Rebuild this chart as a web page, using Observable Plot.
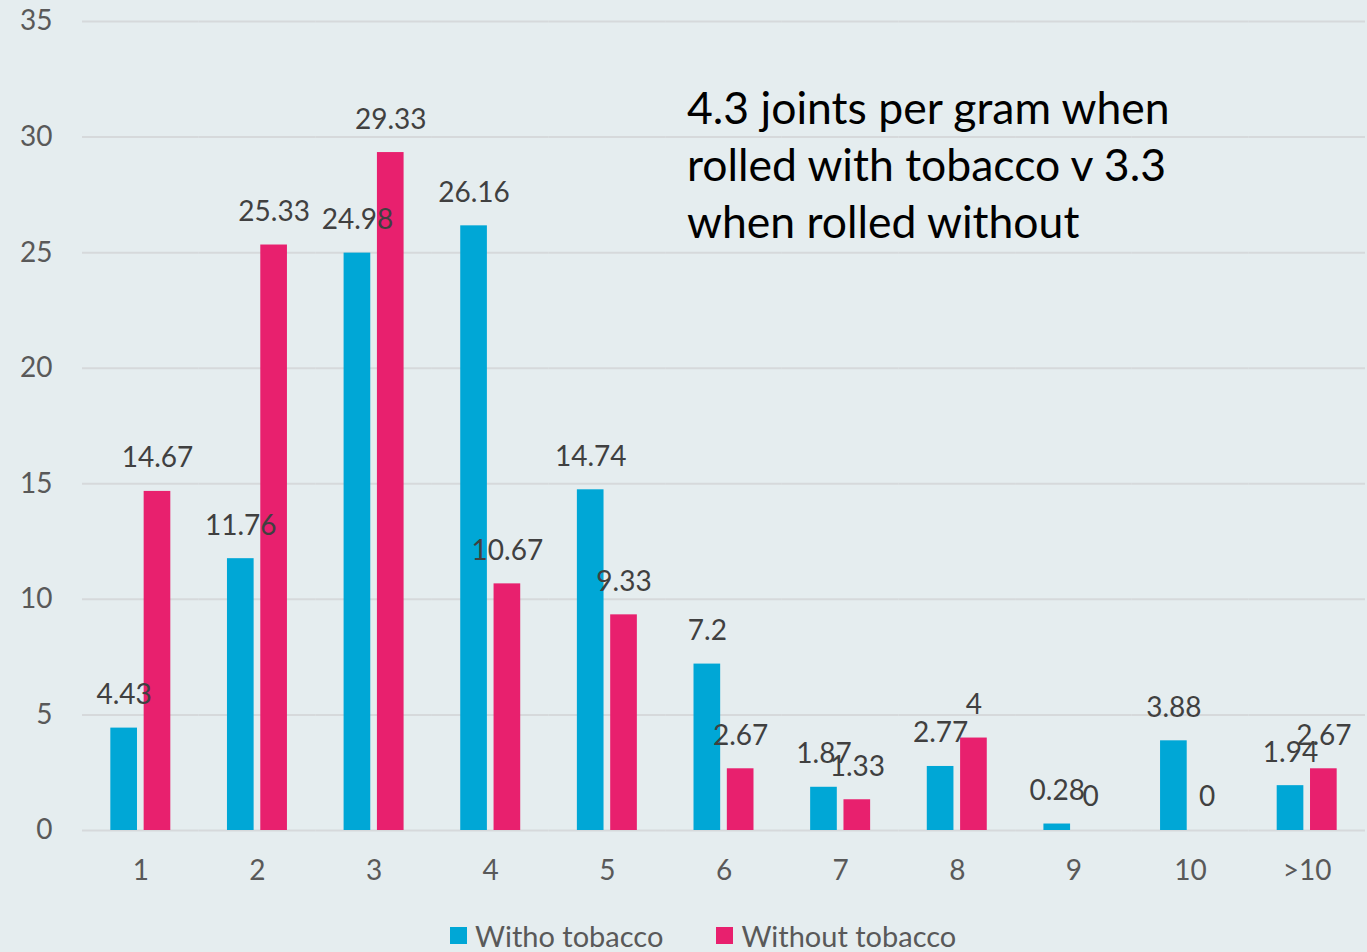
<!DOCTYPE html>
<html>
<head>
<meta charset="utf-8">
<script src="https://cdn.jsdelivr.net/npm/d3@7"></script>
<script src="https://cdn.jsdelivr.net/npm/@observablehq/plot@0.6"></script>
<style>
  html, body { margin: 0; padding: 0; background: #e5edef; }
  body { width: 1367px; height: 952px; position: relative; overflow: hidden; font-family: Lato, "Open Sans", sans-serif; }
  #chart { position: absolute; left: 0; top: 0; }
  #note { position: absolute; left: 687px; top: 78px; font-size: 44.5px; line-height: 57px; color: #000; }
  #legend { position: absolute; left: 450px; top: 918px; display: flex; align-items: center; font-size: 29px; color: #595959; }
  .item { display: flex; align-items: center; margin-right: 53px; }
  .sw { width: 17px; height: 17px; margin-right: 8px; }
</style>
</head>
<body>
<div id="chart"></div>
<div id="note">4.3 joints per gram when<br>rolled with tobacco v 3.3<br>when rolled without</div>
<div id="legend"></div>
<script>
const categories = ["1", "2", "3", "4", "5", "6", "7", "8", "9", "10", ">10"];
const withTobacco = [4.43, 11.76, 24.98, 26.16, 14.74, 7.2, 1.87, 2.77, 0.28, 3.88, 1.94];
const withoutTobacco = [14.67, 25.33, 29.33, 10.67, 9.33, 2.67, 1.33, 4, 0, 0, 2.67];
const seriesNames = ["Witho tobacco", "Without tobacco"];
const seriesColors = ["#00a7d6", "#e8206e"];
const yTicks = [0, 5, 10, 15, 20, 25, 30, 35];

const data = [];
categories.forEach((c, i) => {
  data.push({cat: c, series: seriesNames[0], value: withTobacco[i]});
  data.push({cat: c, series: seriesNames[1], value: withoutTobacco[i]});
});

const chart = Plot.plot({
  width: 1367,
  height: 900,
  marginLeft: 82,
  marginRight: 2,
  marginTop: 21,
  marginBottom: 70,
  style: {background: "transparent", fontFamily: "Lato, 'Open Sans', sans-serif", fontSize: "28px", color: "#595959", overflow: "visible"},
  fx: {domain: categories, padding: 0, round: false, label: null, axis: "bottom", tickSize: 0, tickPadding: 30},
  x: {domain: seriesNames, axis: null, round: false, paddingInner: 0.2, paddingOuter: 0.85},
  y: {domain: [0, 35], ticks: yTicks, tickSize: 0, tickPadding: 30, label: null},
  color: {domain: seriesNames, range: seriesColors},
  marks: [
    Plot.ruleY(yTicks, {stroke: "#d6d9db", strokeWidth: 2}),
    Plot.barY(data, {fx: "cat", x: "series", y: "value", fill: "series"}),
    Plot.text(data, {fx: "cat", x: "series", y: "value", text: d => String(d.value), dy: -33, fill: "#404040", fontSize: 28})
  ]
});
document.getElementById("chart").appendChild(chart);

const legend = document.getElementById("legend");
seriesNames.forEach((s, i) => {
  const item = document.createElement("div");
  item.className = "item";
  const sw = document.createElement("div");
  sw.className = "sw";
  sw.style.background = seriesColors[i];
  const t = document.createElement("span");
  t.textContent = s;
  item.appendChild(sw);
  item.appendChild(t);
  legend.appendChild(item);
});
</script>
</body>
</html>
